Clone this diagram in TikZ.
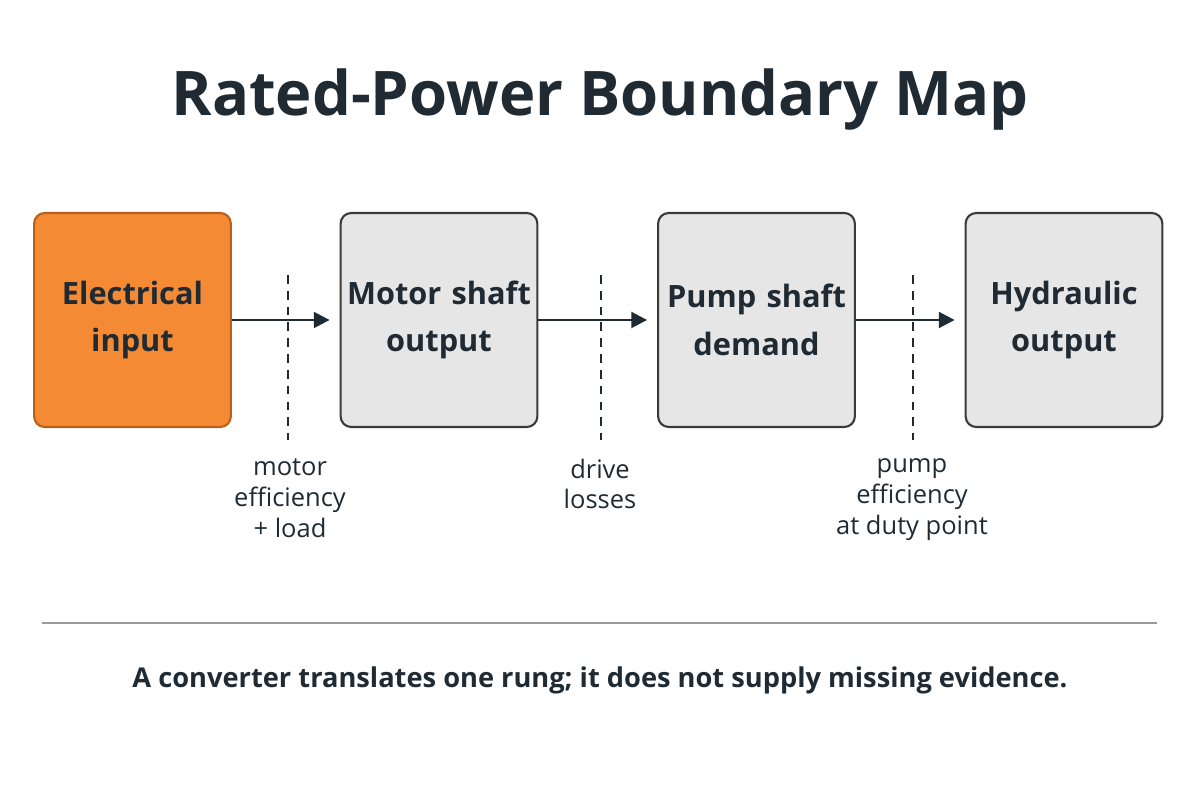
\documentclass[tikz,border=0pt]{standalone}
\usepackage{fontspec}
\setmainfont{Open Sans}
\usetikzlibrary{positioning,arrows.meta}
\definecolor{vink}{HTML}{1f2a33}
\definecolor{vorange}{HTML}{f58a35}
\definecolor{vorangedark}{HTML}{b8601c}
\definecolor{vgray}{HTML}{e6e6e6}
\definecolor{vedge}{HTML}{3a3a3a}
\definecolor{vrule}{HTML}{9a9a9a}
\tikzset{
	stage/.style={draw=vedge, line width=1.2pt, fill=vgray, rounded corners=6pt, minimum width=3.9cm, text width=3.7cm, minimum height=4.28cm, align=center, text=vink, font=\fontsize{17.5}{27}\selectfont\bfseries},
	flow/.style={-{Triangle[length=9pt,width=9pt]}, line width=1.5pt, draw=vink},
	cut/.style={dashed, line width=0.9pt, draw=vink, dash pattern=on 5pt off 4pt},
	note/.style={align=center, text=vink, font=\fontsize{14.5}{17.5}\selectfont, anchor=north}
}
\begin{document}
\begin{tikzpicture}
	\useasboundingbox (0,0) rectangle (24,16);
	\node[font=\fontsize{35}{40}\selectfont\bfseries, text=vink] (title) at (12,14) {Rated-Power Boundary Map};
	\node[stage, fill=vorange, draw=vorangedark] (elec) at (2.65,9.6) {Electrical\\input};
	\node[stage] (motor) at (8.78,9.6) {Motor shaft\\output};
	\node[stage] (pump) at (15.13,9.6) {Pump shaft\\demand};
	\node[stage] (hyd) at (21.28,9.6) {Hydraulic\\output};
	\draw[flow] (elec.east) -- ([xshift=-0.2cm]motor.west);
	\draw[flow] (motor.east) -- ([xshift=-0.2cm]pump.west);
	\draw[flow] (pump.east) -- ([xshift=-0.2cm]hyd.west);
	% boundaries between stages
	\coordinate (c1top) at (5.76,10.5);
	\coordinate (c1bot) at (5.76,7.2);
	\coordinate (c2top) at (12.02,10.5);
	\coordinate (c2bot) at (12.02,7.2);
	\coordinate (c3top) at (18.26,10.5);
	\coordinate (c3bot) at (18.26,7.2);
	\draw[cut] (c1top) -- (c1bot);
	\draw[cut] (c2top) -- (c2bot);
	\draw[cut] (c3top) -- (c3bot);
	\node[note] (n1) at (5.8,6.95) {motor\\efficiency\\+ load};
	\node[note] (n2) at (12.0,6.95) {drive\\losses};
	\node[note] (n3) at (18.24,6.95) {pump\\efficiency\\at duty point};
	\draw[vrule, line width=1.5pt] (0.84,3.54) -- (23.14,3.54);
	\node[font=\fontsize{15.5}{20}\selectfont\bfseries, text=vink] (foot) at (12,2.4) {A converter translates one rung; it does not supply missing evidence.};
\end{tikzpicture}
\end{document}
